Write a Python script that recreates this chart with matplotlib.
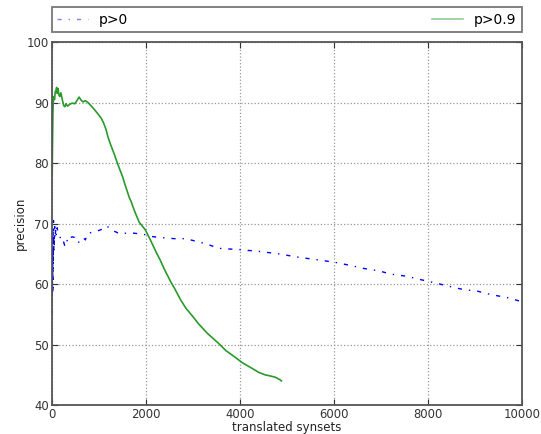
import matplotlib
matplotlib.use("Agg")
import matplotlib.pyplot as plt

# precision as a function of the number of translated synsets
x_all = [1, 2, 3, 4, 6, 8, 10, 12, 15, 18, 21, 25, 29, 33, 38, 44, 50, 58, 66, 75,
         85, 95, 112, 135, 169, 200, 239, 270, 309, 340, 380, 430, 485, 521, 556, 600,
         661, 710, 766, 837, 907, 977, 1013, 1080, 1153, 1200, 1294, 1364, 1435, 1540,
         1645, 1751, 1962, 2068, 2300, 2600, 2841, 3052, 3300, 3544, 3966, 4400, 4810,
         5270, 5654, 6014, 6333, 6617, 6936, 7241, 7539, 7858, 8142, 8461, 8745, 9064,
         9369, 9667, 9986]
p_all = [55, 62, 58, 66, 57, 64, 59, 68, 61, 66, 58.5, 69.5, 63, 70.5, 65, 68, 66.5,
         69.5, 67.5, 68.5, 69.2, 68.0, 69.3, 68.3, 67.9, 67.0, 67.2, 66.4, 67.4, 66.9,
         67.6, 67.8, 67.7, 67.0, 66.8, 67.2, 67.7, 67.3, 68.4, 68.5, 68.7, 68.8, 68.9,
         69.1, 69.6, 69.4, 68.8, 68.6, 68.3, 68.4, 68.4, 68.4, 68.2, 67.9, 67.7, 67.5,
         67.5, 67.1, 66.6, 65.9, 65.7, 65.4, 65.0, 64.4, 64.0, 63.6, 63.1, 62.6, 62.2,
         61.6, 61.3, 60.7, 60.2, 59.6, 59.1, 58.8, 58.2, 57.8, 57.1]

x_conf = [5, 10, 15, 20, 28, 40, 55, 70, 85, 100, 112, 130, 150, 169, 190, 220, 250,
          274, 300, 330, 380, 430, 485, 530, 577, 620, 661, 710, 766, 840, 907, 980,
          1048, 1100, 1153, 1188, 1250, 1329, 1364, 1435, 1500, 1560, 1645, 1681, 1760,
          1857, 1983, 2100, 2208, 2300, 2400, 2525, 2600, 2736, 2850, 3000, 3122, 3300,
          3544, 3700, 3896, 4050, 4248, 4400, 4529, 4650, 4750, 4846, 4880]
p_conf = [78, 82, 85, 88, 90, 91, 90.5, 91.8, 92, 92.5, 91.5, 92.3, 91.2, 91.0, 91.6,
          90.5, 89.5, 89.3, 89.8, 89.4, 89.7, 89.9, 89.8, 90.3, 90.9, 90.4, 90.1, 90.3,
          90.0, 89.4, 88.8, 88.1, 87.4, 86.6, 85.5, 84.4, 83.0, 81.4, 80.6, 79.1, 77.8,
          76.3, 74.3, 73.7, 72.0, 70.2, 69.0, 67.2, 65.4, 64.0, 62.3, 60.4, 59.4, 57.4,
          56.0, 54.6, 53.4, 51.9, 50.2, 49.0, 47.9, 47.0, 46.1, 45.4, 45.0, 44.8, 44.6,
          44.2, 44.0]

labels = ["p>0", "p>0.9"]
x_ticks = [0, 2000, 4000, 6000, 8000, 10000]
y_ticks = [40, 50, 60, 70, 80, 90, 100]

fig = plt.figure(figsize=(5.41, 4.34), dpi=100, facecolor="white")
ax = fig.add_axes([0.096, 0.0667, 0.869, 0.8365])

ax.plot(x_all, p_all, color="b", lw=1.0, linestyle=(0, (3, 5, 1, 5)), label=labels[0])
ax.plot(x_conf, p_conf, color="#2a9a2a", lw=1.2, label=labels[1])

ax.set_xlim(0, 10000)
ax.set_ylim(40, 100)
ax.set_xticks(x_ticks)
ax.set_yticks(y_ticks)
ax.tick_params(direction="in", top=True, right=True, labelsize=8.4, length=4,
               pad=2, colors="#333333")
ax.grid(True, color="#999999", linestyle=":", linewidth=0.9)
for s in ax.spines.values():
    s.set_color("#555555")
    s.set_linewidth(1.3)

ax.set_xlabel("translated synsets", fontsize=8.5, labelpad=0, color="#222222")
ax.set_ylabel("precision", fontsize=8.5, labelpad=0, color="#222222")

leg = ax.legend(bbox_to_anchor=(0.0, 1.027, 1.0, 0.069), loc="lower left", ncol=2,
                mode="expand", borderaxespad=0.0, fontsize=10, fancybox=False,
                handlelength=2.2, borderpad=0.4)
leg.get_frame().set_edgecolor("#555555")
leg.get_frame().set_linewidth(1.3)
for h in leg.get_lines():
    h.set_alpha(0.5)

fig.savefig("out.png", dpi=100, facecolor="white")
